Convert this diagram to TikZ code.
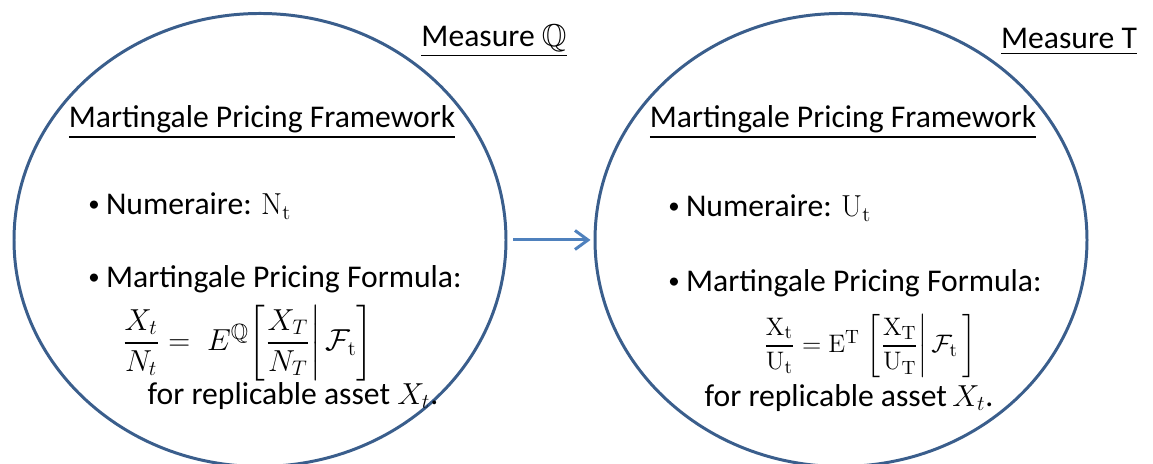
\documentclass[tikz,border=0pt]{standalone}
\usepackage{amsmath, amssymb}
\usepackage[no-math]{fontspec}
\setmainfont{Carlito}
\usepackage{tikz}
\usetikzlibrary{positioning, arrows.meta, shapes.geometric}
\usepackage{xcolor}
\definecolor{rimBlue}{RGB}{58, 94, 140}
\definecolor{arrowBlue}{RGB}{79, 129, 189}

\newcommand{\dotmark}{\raisebox{0.1em}{\fontsize{13}{15}\selectfont\textbullet}\hspace{0.2em}}

\tikzset{
  measure/.style={ellipse, draw=rimBlue, line width=1.7pt, minimum width=9.84cm, minimum height=9.06cm},
  heading/.style={inner sep=0pt},
  bullet/.style={anchor=west, inner sep=0pt},
  formula/.style={inner sep=0pt},
}

\begin{document}
\begin{tikzpicture}[>={Straight Barb[length=2.6mm, width=3.8mm]}, font=\fontsize{18}{21}\selectfont]
  \useasboundingbox (0, 0) rectangle (23.06, 9.28);

  \node[measure] (qbox) at (5.2, 4.48) {};
  \node[measure] (tbox) at (16.82, 4.48) {};

  % left: measure Q
  \node[heading] (qname) at (9.88, 8.46) {\underline{Measure $\mathbb{Q}$}};
  \node[heading] (qtitle) at (5.24, 6.84) {\underline{Martingale Pricing Framework}};
  \node[bullet] (qnum) at (1.76, 5.16) {\dotmark Numeraire: $\mathrm{N_t}$};
  \node[bullet] (qform) at (1.76, 3.7) {\dotmark Martingale Pricing Formula:};
  \node[formula] (qeq) at (4.96, 2.42)
    {$\dfrac{X_t}{N_t} = \;E^{\mathbb{Q}}\biggl[\dfrac{X_T}{N_T}\biggr|\,\mathcal{F}_{\mathrm{t}}\biggr]$};
  \node[formula] (qasset) at (5.86, 1.36) {for replicable asset $X_t$.};

  % right: measure T
  \node[heading] (tname) at (21.38, 8.44) {\underline{Measure T}};
  \node[heading] (ttitle) at (16.86, 6.84) {\underline{Martingale Pricing Framework}};
  \node[bullet] (tnum) at (13.36, 5.12) {\dotmark Numeraire: $\mathrm{U_t}$};
  \node[bullet] (tform) at (13.36, 3.62) {\dotmark Martingale Pricing Formula:};
  \node[formula, font=\fontsize{15}{18}\selectfont] (teq) at (17.4, 2.36)
    {$\dfrac{\mathrm{X_t}}{\mathrm{U_t}} = \mathrm{E^T}\;\biggl[\dfrac{\mathrm{X_T}}{\mathrm{U_T}}\biggr|\,\mathcal{F}_{\mathrm{t}}\,\biggr]$};
  \node[formula] (tasset) at (16.98, 1.32) {for replicable asset\,$X_t$.};

  \draw[->, arrowBlue, line width=1.7pt, shorten <=0.12cm, shorten >=0.06cm] (qbox.east) -- (tbox.west);
\end{tikzpicture}
\end{document}
